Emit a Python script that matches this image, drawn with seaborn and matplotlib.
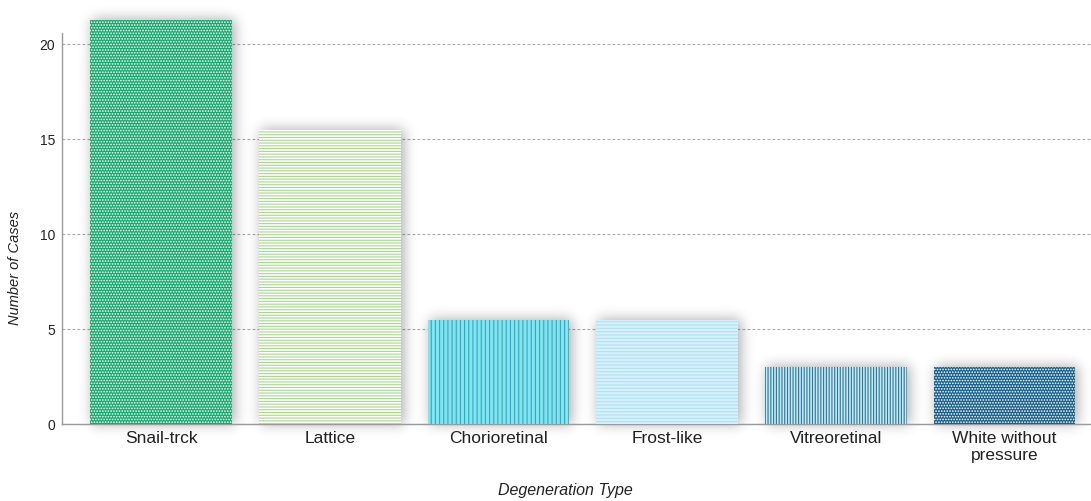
import numpy as np
import matplotlib
matplotlib.use("Agg")
import matplotlib.pyplot as plt
import seaborn as sns

categories = ["Snail-trck", "Lattice", "Chorioretinal", "Frost-like",
              "Vitreoretinal", "White without\npressure"]
cases = [21.3, 15.5, 5.5, 5.5, 3.0, 3.0]
y_ticks = [0, 5, 10, 15, 20]

face_colors = ["#17a86f", "#ffffff", "#8fdfea", "#d6f1fc", "#cfe6ef", "#17608a"]
hatch_colors = ["#ffffff", "#a9d58f", "#12b6cc", "#b0e0f4", "#1d7aa2", "#ffffff"]
hatches = ["......", "------", "||||", "-----", "||||||", "......"]

sns.set_theme(style="white")
plt.rcParams["font.family"] = ["Liberation Sans", "DejaVu Sans"]
plt.rcParams["hatch.linewidth"] = 0.8

W, H, DPI = 1091, 501, 100
fig = plt.figure(figsize=(W / DPI, H / DPI), dpi=DPI)
ax = fig.add_axes([62 / W, 1 - 424 / H, 1 - 62 / W, (424 - 33) / H])
ax.set_axisbelow(True)

sns.barplot(x=categories, y=cases, hue=categories, palette=face_colors,
            saturation=1, width=0.84, linewidth=0, legend=False, ax=ax)

for bar, hc, h in zip(ax.patches, hatch_colors, hatches):
    bar.set_edgecolor(hc)
    bar.set_hatch(h)
    bar.set_linewidth(0)
    bar.set_clip_on(False)
    bar.set_zorder(3)

ax.set_xlim(-0.587, 5.513)
ax.set_ylim(0, 20.6)

# soft glow behind the bars, built from the bar extents in pixel space
fig.canvas.draw()
mask = np.zeros((H, W))
for bar in ax.patches:
    x0, y0, x1, y1 = bar.get_window_extent().extents
    r0, r1 = int(round(H - y1)), int(round(H - y0))
    c0, c1 = int(round(x0)) + 2, int(round(x1)) + 3
    mask[max(r0 - 1, 0):r1, max(c0, 0):min(c1, W)] = 1.0

sigma = 6.5
k = np.arange(-22, 23)
kernel = np.exp(-0.5 * (k / sigma) ** 2)
kernel /= kernel.sum()
blur = np.apply_along_axis(lambda r: np.convolve(r, kernel, mode="same"), 1, mask)
blur = np.apply_along_axis(lambda c: np.convolve(c, kernel, mode="same"), 0, blur)
rgba = np.zeros((H, W, 4))
rgba[..., 3] = np.clip(blur * 0.32, 0, 1)
ax.imshow(rgba, extent=[0, 1, 0, 1], transform=fig.transFigure, aspect="auto",
          zorder=1.5, clip_on=False, interpolation="bilinear")
ax.set_xlim(-0.587, 5.513)
ax.set_ylim(0, 20.6)

ax.set_yticks(y_ticks)
ax.yaxis.grid(True, color="#a8a8a8", linestyle=(0, (2.5, 2)), linewidth=0.8)
ax.xaxis.grid(False)
for side in ["top", "right"]:
    ax.spines[side].set_visible(False)
for side in ["left", "bottom"]:
    ax.spines[side].set_color("#9a9a9a")
    ax.spines[side].set_linewidth(1.0)

ax.tick_params(axis="y", length=0, pad=5, labelsize=10, labelcolor="#222222")
ax.tick_params(axis="x", length=0, pad=5, labelsize=12.5, labelcolor="#222222")

ax.set_ylabel("Number of Cases", fontsize=10.5, style="italic", color="#222222")
ax.yaxis.set_label_coords(-40 / (W - 62), 0.40)
ax.set_xlabel("Degeneration Type", fontsize=11.5, style="italic", color="#222222")
ax.xaxis.set_label_coords(0.489, -59 / (424 - 33))

fig.savefig("out.png", dpi=DPI)
